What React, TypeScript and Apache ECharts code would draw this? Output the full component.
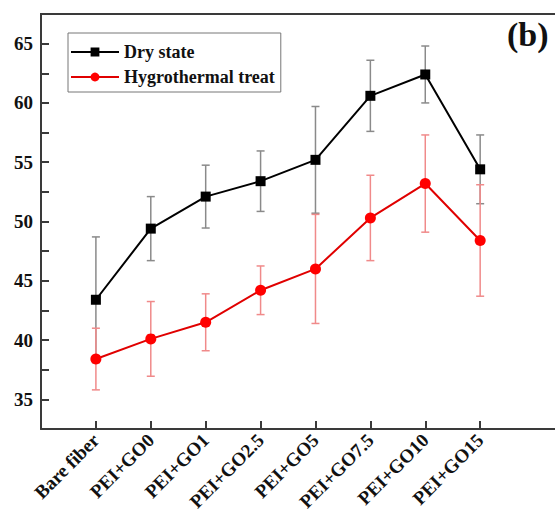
import React, { useEffect, useRef } from "react";
import * as echarts from "echarts";

const categories = ["Bare fiber", "PEI+GO0", "PEI+GO1", "PEI+GO2.5", "PEI+GO5", "PEI+GO7.5", "PEI+GO10", "PEI+GO15"];
const dryValues = [43.4, 49.4, 52.1, 53.4, 55.2, 60.6, 62.4, 54.4];
const dryErrors = [5.3, 2.7, 2.65, 2.55, 4.5, 3.0, 2.4, 2.9];
const hygroValues = [38.4, 40.1, 41.5, 44.2, 46.0, 50.3, 53.2, 48.4];
const hygroErrors = [2.6, 3.15, 2.4, 2.05, 4.6, 3.6, 4.1, 4.7];
const yTickLabels = [35, 40, 45, 50, 55, 60, 65];
const seriesNames = ["Dry state", "Hygrothermal treat"];

const FONT = "'Liberation Serif', 'Times New Roman', serif";
const AXIS_COLOR = "#3a3a3a";

function errorSeries(values: number[], errors: number[], color: string, z: number) {
  return {
    type: "custom",
    xAxisIndex: 0,
    yAxisIndex: 0,
    z,
    silent: true,
    data: values.map((v, i) => [i, v - errors[i], v + errors[i]]),
    encode: { x: 0, y: [1, 2] },
    renderItem: (params: any, api: any) => {
      const x = api.value(0);
      const lo = api.coord([x, api.value(1)]);
      const hi = api.coord([x, api.value(2)]);
      const w = 4;
      const style = { stroke: color, lineWidth: 1.5 };
      return {
        type: "group",
        children: [
          { type: "line", shape: { x1: hi[0], y1: hi[1], x2: lo[0], y2: lo[1] }, style },
          { type: "line", shape: { x1: hi[0] - w, y1: hi[1], x2: hi[0] + w, y2: hi[1] }, style },
          { type: "line", shape: { x1: lo[0] - w, y1: lo[1], x2: lo[0] + w, y2: lo[1] }, style },
        ],
      };
    },
  };
}

export default function App() {
  const ref = useRef<HTMLDivElement>(null);
  useEffect(() => {
    if (!ref.current) return;
    const chart = echarts.init(ref.current, null, { renderer: "svg" });
    const idx = categories.map((_, i) => i);
    const xMax = 8.6;
    chart.setOption({
      animation: false,
      backgroundColor: "#ffffff",
      grid: { left: 41, right: -13, top: 14, bottom: 98, show: false, containLabel: false, outerBoundsMode: "none" },
      legend: {
        orient: "vertical",
        left: 68,
        top: 33,
        padding: [10, 6, 6, 2],
        itemGap: 7,
        itemWidth: 48,
        itemHeight: 11,
        borderColor: "#777",
        borderWidth: 1,
        textStyle: { fontFamily: FONT, fontWeight: "bold", fontSize: 18, color: "#111" },
        data: seriesNames,
      },
      graphic: [
        {
          type: "rect",
          z: 100,
          shape: { x: 545, y: 16, width: 20, height: 412 },
          style: { fill: "#ffffff" },
        },
        {
          type: "line",
          z: 101,
          shape: { x1: 40, y1: 14, x2: 560, y2: 14 },
          style: { stroke: AXIS_COLOR, lineWidth: 2 },
        },
        {
          type: "text",
          z: 102,
          left: 507,
          top: 17,
          style: { text: "(b)", font: `bold 34px ${FONT}`, fill: "#111" },
        },
      ],
      xAxis: {
        type: "value",
        min: -1,
        max: xMax,
        interval: 1,
        position: "bottom",
        splitLine: { show: false },
        minorSplitLine: { show: false },
        axisLine: { show: true, onZero: false, lineStyle: { color: AXIS_COLOR, width: 2 } },
        axisTick: { show: true, inside: true, length: 8, customValues: idx, lineStyle: { color: AXIS_COLOR, width: 2 } },
        axisLabel: {
          customValues: idx,
          rotate: 45,
          margin: 8,
          fontFamily: FONT,
          fontWeight: "bold",
          fontSize: 19,
          color: "#111",
          formatter: (v: number) => categories[Math.round(v)] ?? "",
        },
      },
      yAxis: {
        type: "value",
        min: 32.5,
        max: 67.5,
        interval: 2.5,
        splitLine: { show: false },
        minorSplitLine: { show: false },
        axisLine: { show: true, onZero: false, lineStyle: { color: AXIS_COLOR, width: 2 } },
        axisTick: { show: true, inside: true, length: 8, lineStyle: { color: AXIS_COLOR, width: 2 } },
        axisLabel: {
          margin: 8,
          fontFamily: FONT,
          fontWeight: "bold",
          fontSize: 19,
          color: "#111",
          formatter: (v: number) => (yTickLabels.includes(v) ? String(v) : ""),
        },
      },
      series: [
        errorSeries(dryValues, dryErrors, "#8a8a8a", 1),
        errorSeries(hygroValues, hygroErrors, "#f08a8a", 2),
        {
          name: seriesNames[0],
          type: "line",
          z: 3,
          data: dryValues.map((v, i) => [i, v]),
          symbol: "rect",
          symbolSize: 10,
          itemStyle: { color: "#000" },
          lineStyle: { color: "#000", width: 2 },
        },
        {
          name: seriesNames[1],
          type: "line",
          z: 4,
          data: hygroValues.map((v, i) => [i, v]),
          symbol: "circle",
          symbolSize: 11,
          itemStyle: { color: "#ff0000" },
          lineStyle: { color: "#e00000", width: 2 },
        },
      ],
    });
    return () => chart.dispose();
  }, []);
  return <div ref={ref} style={{ position: "absolute", left: 0, top: 0, width: 555, height: 527 }} />;
}
